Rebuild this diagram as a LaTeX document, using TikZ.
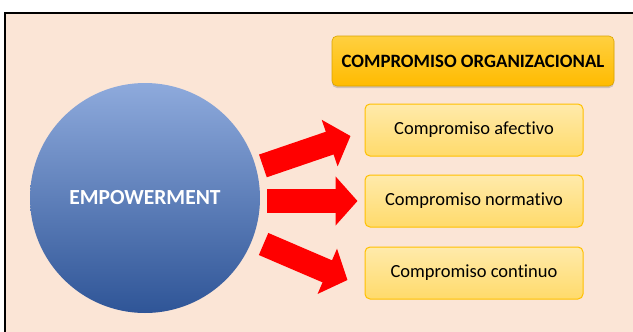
\documentclass[tikz,border=0pt]{standalone}
\usepackage{fontspec}
\setmainfont{Carlito}[Ligatures={NoCommon,NoContextual}]
\usetikzlibrary{arrows.meta,shadows}
\definecolor{peach}{HTML}{FBE5D6}
\definecolor{gold}{HTML}{FFC000}
\definecolor{bluetop}{HTML}{8EAADC}
\definecolor{bluebot}{HTML}{2F5597}
\begin{document}
\begin{tikzpicture}[x=1pt,y=-1pt,
	bigcircle/.style={circle,minimum size=230pt,inner sep=0pt,top color=bluetop,bottom color=bluebot,draw=none,text=white,font=\fontsize{21.5}{24}\selectfont\bfseries},
	titlebox/.style={rectangle,rounded corners=5pt,minimum width=282pt,minimum height=50pt,top color=gold!75!white,bottom color=gold!92!orange,draw=gold!85!black,line width=0.6pt,drop shadow={shadow xshift=0pt,shadow yshift=-2pt,opacity=0.35},font=\fontsize{18.8}{22}\selectfont\bfseries},
	itembox/.style={rectangle,rounded corners=5pt,minimum width=218pt,minimum height=52pt,top color=gold!33!white,bottom color=gold!58!white,draw=gold,line width=1pt,font=\fontsize{18.5}{22}\selectfont},
	bigarrow/.style={draw=red,line width=24pt,-{Triangle[length=22pt,width=48pt]}}]
	
	\useasboundingbox (0,0) rectangle (633,332);
	\fill[peach] (5,13) rectangle (633,332);
	\draw[line width=2pt] (5,340) -- (5,13) -- (640,13);
	
	\node[bigcircle] (emp) at (145,198) {EMPOWERMENT};
	\node[titlebox] (org) at (473,61) {COMPROMISO ORGANIZACIONAL};
	\node[itembox] (af) at (474,130) {Compromiso afectivo};
	\node[itembox] (no) at (474,201) {Compromiso normativo};
	\node[itembox] (cn) at (474,273) {Compromiso continuo};
	
	\draw[bigarrow,shorten <=7pt] (emp.15) -- ([shift={(-14pt,-6pt)}]af.west);
	\draw[bigarrow,shorten <=7pt] (emp.east |- no.west) -- ([xshift=-7pt]no.west);
	\draw[bigarrow,shorten <=12pt] (emp.-21) -- ([shift={(-17pt,-7pt)}]cn.west);
	
\end{tikzpicture}
\end{document}
